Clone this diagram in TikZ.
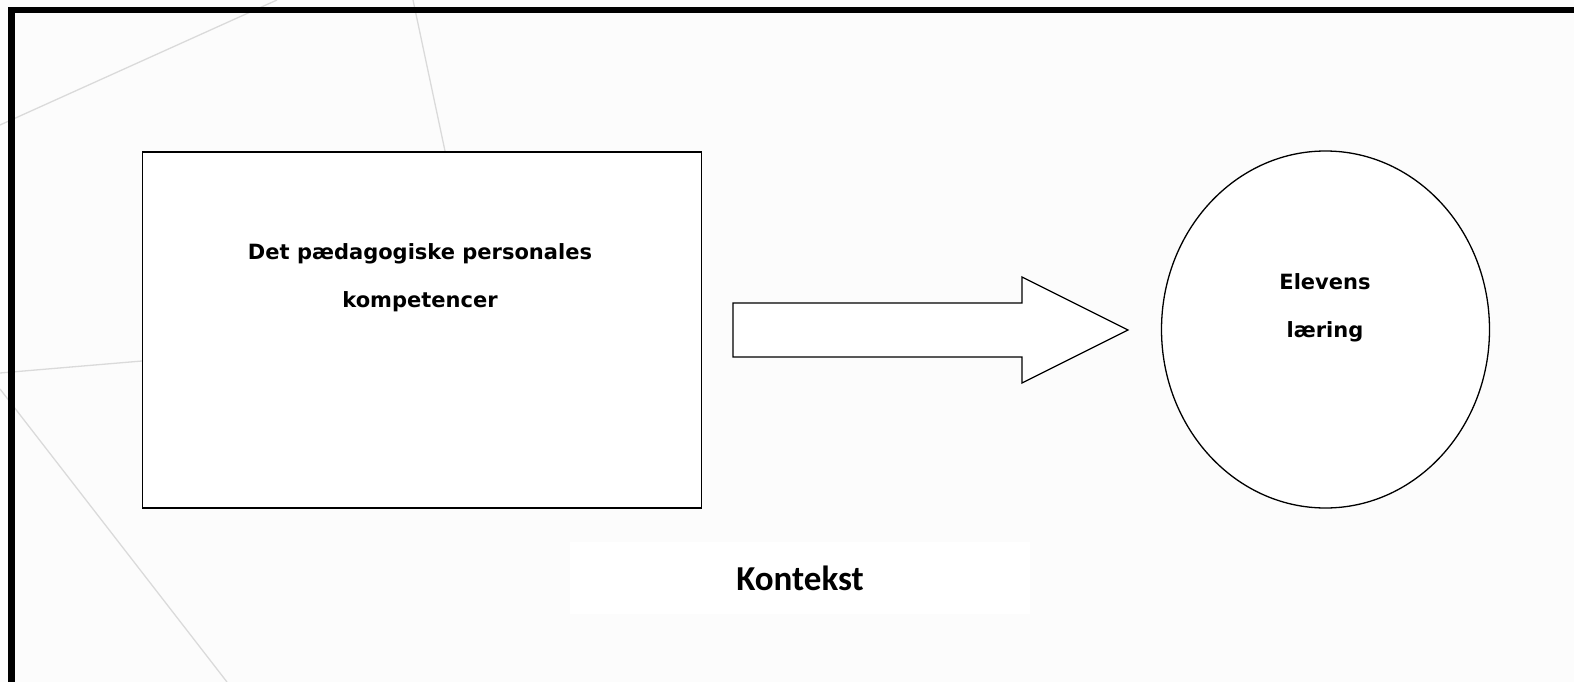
\documentclass[tikz,border=0pt]{standalone}
\usepackage{fontspec}
\newfontfamily\boxfont{DejaVu Sans}
\newfontfamily\ctxfont{Carlito}
\usetikzlibrary{shapes.geometric}
\definecolor{bgpaper}{HTML}{FCFCFC}
\definecolor{faint}{HTML}{DADADA}
\tikzset{
  plain/.style={draw=black, line width=1.3pt, fill=white},
  label/.style={font=\boxfont\bfseries\fontsize{21}{48}\selectfont, align=center, inner sep=0pt},
}
\begin{document}
\begin{tikzpicture}[x=1pt, y=-1pt]
    \useasboundingbox (0, 0) rectangle (1574, 682);
    \clip (0, 0) rectangle (1574, 682);
    \fill[bgpaper] (0, 0) rectangle (1574, 682);
    % faint background lines
    \draw[faint, line width=1.3pt] (0, 125) -- (277, 0);
    \draw[faint, line width=1.3pt] (413, 0) -- (445, 151);
    \draw[faint, line width=1.3pt] (0, 373) -- (142, 361);
    \draw[faint, line width=1.3pt] (0, 389) -- (227, 682);
    % frame
    \draw[line width=6.5pt] (11.5, 700) -- (11.5, 10) -- (1600, 10);
    \node[plain, rectangle, minimum width=559pt, minimum height=356pt] (personale) at (422, 330) {};
    \node[label] (personaletext) at (420, 278) {Det pædagogiske personales\\kompetencer};
    \node[plain, ellipse, minimum width=328pt, minimum height=357pt, inner sep=0pt] (elev) at (1325.5, 329.5) {};
    \node[label] (elevtext) at (1325, 308) {Elevens\\læring};
    \draw[plain] (733, 303) -- (1022, 303) -- (1022, 277) -- (1128, 330)
        -- (1022, 383) -- (1022, 357) -- (733, 357) -- cycle;
    \node[fill=white, minimum width=460pt, minimum height=72pt, inner sep=0pt,
        font=\ctxfont\bfseries\fontsize{35}{42}\selectfont] (kontekst) at (800, 578) {Kontekst};
\end{tikzpicture}
\end{document}
